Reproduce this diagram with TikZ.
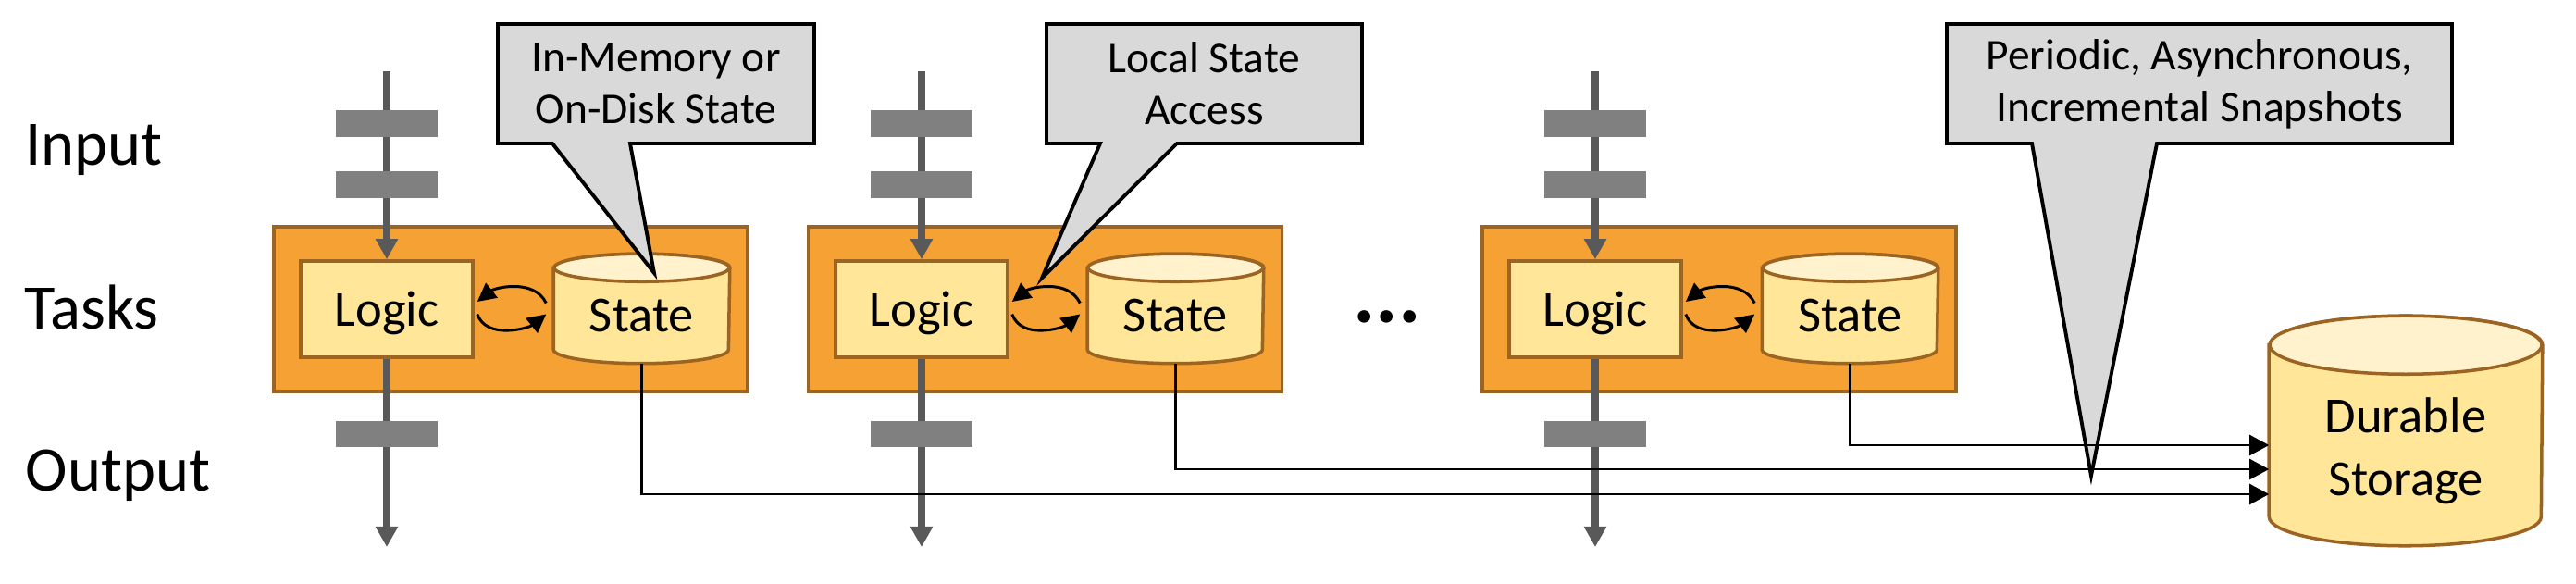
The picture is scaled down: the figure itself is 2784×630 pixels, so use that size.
\documentclass[tikz,border=0pt]{standalone}
\usepackage{fontspec}
\setmainfont{Carlito}
\usetikzlibrary{arrows.meta,calc}
\definecolor{orangefill}{HTML}{F5A133}
\definecolor{brownline}{HTML}{9C6422}
\definecolor{logicfill}{HTML}{FFE699}
\definecolor{topfill}{HTML}{FFF2CC}
\definecolor{calloutfill}{HTML}{D9D9D9}
\definecolor{barfill}{HTML}{808080}
\definecolor{streamline}{HTML}{595959}
\newcommand\drawcyl[3]{%
  \draw[cylline, fill=logicfill] ($(#1.north west)+(0,-#3)$) -- ($(#1.south west)+(0,#3)$)
    arc[start angle=180,end angle=360,x radius=#2,y radius=#3]
    -- ($(#1.north east)+(0,-#3)$)
    arc[start angle=0,end angle=180,x radius=#2,y radius=#3] -- cycle;
  \draw[cylline, fill=topfill] ($(#1.north)+(0,-#3)$) ellipse[x radius=#2,y radius=#3];
}
\begin{document}
\begin{tikzpicture}[x=0.01cm,y=0.01cm,
  taskbox/.style={draw=brownline, fill=orangefill, line width=1pt, minimum width=5.12cm, minimum height=1.78cm, inner sep=0pt},
  logicbox/.style={draw=brownline, fill=logicfill, line width=1pt, minimum width=1.86cm, minimum height=1.04cm, inner sep=0pt, text depth=0pt, font=\fontsize{15.5}{18}\selectfont},
  statebox/.style={minimum width=1.89cm, minimum height=1.17cm, inner sep=0pt},
  storebox/.style={minimum width=2.94cm, minimum height=2.47cm, inner sep=0pt},
  cylline/.style={draw=brownline, line width=1pt},
  cyltext/.style={inner sep=0pt, font=\fontsize{15.5}{18}\selectfont},
  storetext/.style={inner sep=0pt, align=center, font=\fontsize{15.5}{19.4}\selectfont},
  bar/.style={fill=barfill, minimum width=1.1cm, minimum height=0.28cm, inner sep=0pt},
  stream/.style={draw=streamline, line width=2.3pt, -{Triangle[length=0.22cm,width=0.23cm]}},
  conn/.style={line width=0.7pt, -{Triangle[length=0.21cm,width=0.22cm]}},
  looparrow/.style={line width=0.85pt, -{Triangle[length=0.2cm,width=0.2cm]}},
  callout/.style={draw=black, fill=calloutfill, line width=1.1pt, line join=miter},
  callouttext/.style={inner sep=0pt, align=center, font=\fontsize{13.5}{15.9}\selectfont},
  rowlabel/.style={anchor=base west, inner sep=0pt, font=\fontsize{19.5}{22}\selectfont},
  dotstext/.style={inner sep=0pt, font=\bfseries\fontsize{26}{26}\selectfont}
]
\useasboundingbox (0,0) rectangle (2784,630);

% task boxes
\node[taskbox] (t1) at (552,296) {};
\node[taskbox] (t2) at (1129.5,296) {};
\node[taskbox] (t3) at (1858,296) {};

% logic
\node[logicbox] (l1) at (418,296) {Logic};
\node[logicbox] (l2) at (996,296) {Logic};
\node[logicbox] (l3) at (1724,296) {Logic};

% states
\node[statebox] (s1) at (693.5,296.5) {};
\node[statebox] (s2) at (1270.5,296.5) {};
\node[statebox] (s3) at (1999.5,296.5) {};
\drawcyl{s1}{0.945cm}{0.15cm}
\drawcyl{s2}{0.945cm}{0.15cm}
\drawcyl{s3}{0.945cm}{0.15cm}
\node[cyltext] (s1t) at (693.5,289) {State};
\node[cyltext] (s2t) at (1270.5,289) {State};
\node[cyltext] (s3t) at (1999.5,289) {State};

% durable storage
\node[storebox] (ds) at (2600,164.5) {};
\drawcyl{ds}{1.47cm}{0.315cm}
\node[storetext] (dst) at (2600,143) {Durable\\Storage};

% streams
\foreach \x/\n in {418/1,996/2,1724/3}{
  \coordinate (in\n) at (\x,553);
  \coordinate (out\n) at (\x,39);
  \draw[stream] (in\n) -- (l\n.north);
  \draw[stream] (l\n.south) -- (out\n);
  \node[bar] (bara\n) at (\x,496.5) {};
  \node[bar] (barb\n) at (\x,430.5) {};
  \node[bar] (barc\n) at (\x,161) {};
}

% loops
\foreach \n in {1,2,3}{
  \draw[looparrow] ($(s\n.west)+(-8,6)$) .. controls ($(s\n.west)+(-21,33)$) and ($(l\n.east)+(22,23)$) .. ($(l\n.east)+(3,8)$);
  \draw[looparrow] ($(l\n.east)+(3,-5.5)$) .. controls ($(l\n.east)+(13,-33.5)$) and ($(s\n.west)+(-27,-21)$) .. ($(s\n.west)+(-8,-6)$);
}

% dots
\node[dotstext] (dots) at (1499,288) {...};

% callouts
\draw[callout] (538,475) -- (597,475) -- (707,335) -- (681,475) -- (880,475) -- (880,604) -- (538,604) -- cycle;
\node[callouttext] (c1) at (709,539.5) {In-Memory or\\On-Disk State};
\draw[callout] (1131,475) -- (1189,475) -- (1126,329.5) -- (1272,475) -- (1472,475) -- (1472,604) -- (1131,604) -- cycle;
\node[callouttext] (c2) at (1301.5,539.5) {Local State\\Access};
\draw[callout] (2104,475) -- (2196,475) -- (2260,116) -- (2331,475) -- (2650,475) -- (2650,604) -- (2104,604) -- cycle;
\node[callouttext] (c3) at (2377,539.5) {Periodic, Asynchronous,\\Incremental Snapshots};

% connectors to durable storage
\draw[conn] (s3.south) |- ($(ds.west)+(0,-15.5)$);
\draw[conn] (s2.south) |- ($(ds.west)+(0,-41.5)$);
\draw[conn] (s1.south) |- ($(ds.west)+(0,-68.5)$);

% row labels
\node[rowlabel] (lin) at (27,451) {Input};
\node[rowlabel] (ltasks) at (26,274) {Tasks};
\node[rowlabel] (lout) at (27,100) {Output};
\end{tikzpicture}
\end{document}
